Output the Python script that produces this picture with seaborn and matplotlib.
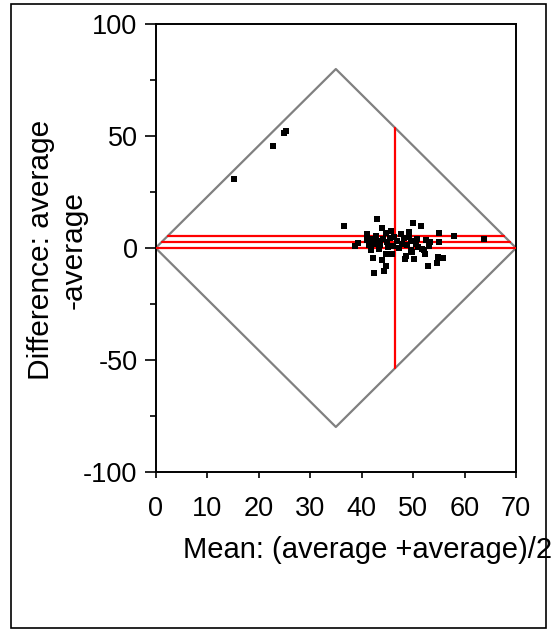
import matplotlib
matplotlib.use("Agg")
import matplotlib.pyplot as plt
from matplotlib.patches import Rectangle
from matplotlib.ticker import MultipleLocator
import numpy as np
import pandas as pd
import seaborn as sns

# Mean of the two measurements (x) and their difference (y)
mean_vals = [
    15.2, 22.7, 24.9, 25.3,
    36.6, 39.3, 38.8, 41.1, 41.0, 41.5, 41.8, 42.0, 42.3, 42.4, 42.6, 42.8,
    43.0, 43.2, 43.3, 43.5, 44.0, 44.0, 44.2, 44.3, 44.7, 44.7, 44.8, 44.9,
    45.2, 45.5, 45.8, 45.9, 46.0, 46.3, 46.8, 47.2, 47.6, 47.8, 48.2, 48.5,
    48.7, 48.9, 49.2, 49.2, 49.5, 49.8, 49.6, 50.0, 50.2, 50.5, 50.8, 51.0,
    51.6, 51.8, 52.1, 52.4, 52.6, 52.8, 53.0, 53.2, 54.7, 55.0, 55.0, 55.9,
    54.9, 57.9, 63.7,
]
diff_vals = [
    31.0, 45.4, 51.2, 52.3,
    9.8, 2.2, 1.0, 6.4, 3.5, 1.5, -1.0, 4.0, -4.4, -11.3, 2.0, 5.5,
    13.1, 3.0, -0.5, 1.5, 8.8, -5.5, 4.0, -10.1, 6.8, -7.9, -2.9, 2.5,
    0.5, 4.5, 7.5, -2.5, 1.0, 5.0, 3.0, 0.0, 6.4, 2.0, 4.5, -4.9,
    -3.4, 1.5, 7.1, 4.9, -1.0, -1.9, 3.0, 11.3, -4.9, 2.0, 4.0, 0.5,
    9.8, -0.5, -1.1, -2.6, 3.7, -8.0, 1.0, 2.5, -6.7, 6.8, 2.8, -4.6,
    -3.8, 5.3, 3.8,
]

# Mean difference with its confidence limits, and the mean of the means
diff_levels = [5.4, 2.75, 0.1]
mean_center = 46.5

# Outline of the region reachable by the paired measurements
diamond_x = [0, 35, 70, 35, 0]
diamond_y = [0, 80, 0, -80, 0]

x_ticks = [0, 10, 20, 30, 40, 50, 60, 70]
y_ticks = [-100, -50, 0, 50, 100]

df = pd.DataFrame({"mean": mean_vals, "diff": diff_vals})

sns.set_theme(style="ticks")
plt.rcParams["font.family"] = ["Liberation Sans", "DejaVu Sans"]

fig = plt.figure(figsize=(5.6, 6.34), dpi=100)
ax = fig.add_axes([155.6 / 560, 1 - 471.7 / 634, 360.5 / 560, 447.4 / 634])

# Diamond boundary
ax.plot(diamond_x, diamond_y, color="#808080", lw=1.6, zorder=2)

# Horizontal reference lines clipped to the diamond edges
half_w = diamond_x[2] - diamond_x[1]
slope = diamond_y[1] / half_w
for lvl in diff_levels:
    xl = abs(lvl) / slope
    ax.plot([xl, diamond_x[2] - xl], [lvl, lvl], color="red", lw=1.6, zorder=3)

# Vertical line at the mean of the means, clipped to the diamond
h = slope * (diamond_x[2] - mean_center)
ax.plot([mean_center, mean_center], [-h, h], color="red", lw=1.6, zorder=3)

sns.scatterplot(data=df, x="mean", y="diff", marker="s", s=20, color="black",
                linewidth=0, ax=ax, zorder=4)

ax.set_xlim(0, 70)
ax.set_ylim(-100, 100)
ax.set_xticks(x_ticks)
ax.set_yticks(y_ticks)
ax.set_xticklabels([str(t) for t in x_ticks])
ax.set_yticklabels([str(t) for t in y_ticks])
ax.yaxis.set_minor_locator(MultipleLocator(25))

for s in ax.spines.values():
    s.set_visible(True)
    s.set_color("black")
    s.set_linewidth(1.4)

ax.tick_params(axis="x", which="major", length=4.5, width=1.2, pad=13,
               labelsize=19.5, colors="black", direction="out")
ax.tick_params(axis="y", which="major", length=8, width=1.2, pad=5,
               labelsize=19.5, colors="black", direction="out")
ax.tick_params(axis="y", which="minor", length=4, width=1.2, colors="black",
               direction="out")

ax.set_xlabel("Mean: (average +average)/2", fontsize=21, color="black",
              ha="left", va="top")
ax.xaxis.set_label_coords((183 - 155.6) / 360.5, (471.7 - 536) / 447.4)
ax.set_ylabel("Difference: average\n-average", fontsize=21.5, color="black",
              ha="center", va="center", multialignment="center")
ax.yaxis.set_label_coords((57 - 155.6) / 360.5, (471.7 - 250) / 447.4)

# Outer frame around the whole graphic
fig.patches.append(Rectangle((10.5 / 560, 1 - 628 / 634), 535 / 560, 624 / 634,
                             transform=fig.transFigure, fill=False,
                             edgecolor="black", linewidth=1.2))

fig.savefig("out.png", dpi=100)
